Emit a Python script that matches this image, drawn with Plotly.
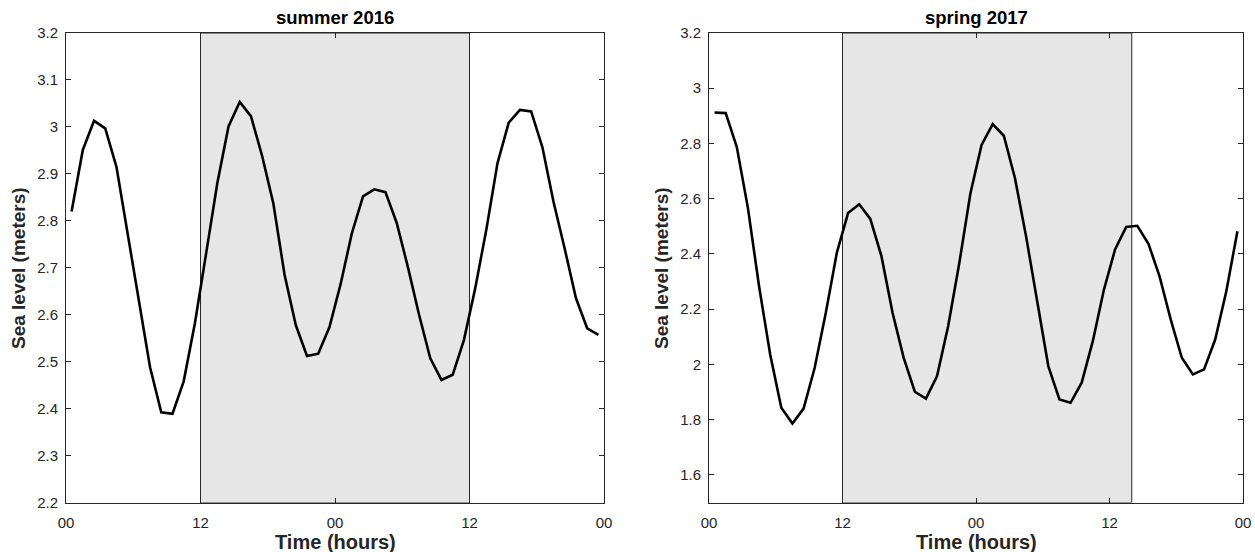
import plotly.graph_objects as go

# ---------------- data ----------------
HOURS = [0.5, 1.5, 2.5, 3.5, 4.5, 5.5, 6.5, 7.5, 8.5, 9.5, 10.5, 11.5,
         12.5, 13.5, 14.5, 15.5, 16.5, 17.5, 18.5, 19.5, 20.5, 21.5, 22.5, 23.5,
         24.5, 25.5, 26.5, 27.5, 28.5, 29.5, 30.5, 31.5, 32.5, 33.5, 34.5, 35.5,
         36.5, 37.5, 38.5, 39.5, 40.5, 41.5, 42.5, 43.5, 44.5, 45.5, 46.5, 47.5]

SUMMER_2016 = [2.820, 2.951, 3.013, 2.997, 2.915, 2.770, 2.624, 2.488, 2.392, 2.389, 2.458, 2.582,
               2.730, 2.880, 3.001, 3.053, 3.023, 2.938, 2.837, 2.685, 2.578, 2.512, 2.517, 2.573,
               2.665, 2.773, 2.852, 2.867, 2.861, 2.796, 2.702, 2.600, 2.507, 2.461, 2.472, 2.546,
               2.655, 2.781, 2.923, 3.009, 3.036, 3.033, 2.957, 2.840, 2.740, 2.635, 2.571, 2.557]

SPRING_2017 = [2.912, 2.910, 2.787, 2.566, 2.283, 2.036, 1.843, 1.786, 1.840, 1.988, 2.187, 2.406,
               2.548, 2.580, 2.527, 2.392, 2.187, 2.024, 1.901, 1.876, 1.958, 2.139, 2.367, 2.620,
               2.795, 2.870, 2.828, 2.675, 2.464, 2.223, 1.994, 1.873, 1.861, 1.934, 2.084, 2.271,
               2.416, 2.498, 2.502, 2.437, 2.319, 2.163, 2.024, 1.964, 1.982, 2.090, 2.265, 2.482]

X_TICKVALS = [0, 12, 24, 36, 48]
X_TICKTEXT = ["00", "12", "00", "12", "00"]

Y1_TICKVALS = [2.2, 2.3, 2.4, 2.5, 2.6, 2.7, 2.8, 2.9, 3.0, 3.1, 3.2]
Y1_TICKTEXT = ["2.2", "2.3", "2.4", "2.5", "2.6", "2.7", "2.8", "2.9", "3", "3.1", "3.2"]
Y2_TICKVALS = [1.6, 1.8, 2.0, 2.2, 2.4, 2.6, 2.8, 3.0, 3.2]
Y2_TICKTEXT = ["1.6", "1.8", "2", "2.2", "2.4", "2.6", "2.8", "3", "3.2"]

SHADE_1 = [12, 36]
SHADE_2 = [12, 38]

TITLES = ["summer 2016", "spring 2017"]
XLABEL = "Time (hours)"
YLABEL = "Sea level (meters)"

# ---------------- layout geometry (pixels) ----------------
W, H = 1255, 552
FONT = "Liberation Sans, Arial, Helvetica, sans-serif"
AX = "#262626"

def px(x):
    return x / W

def py(y):
    return 1 - y / H

left_dom = [px(66), px(604)]
right_dom = [px(709), px(1243)]
y_dom = [py(502.5), py(33)]

fig = go.Figure()

fig.add_trace(go.Scatter(x=HOURS, y=SUMMER_2016, mode="lines",
                         line=dict(color="black", width=2.6),
                         xaxis="x", yaxis="y", showlegend=False))
fig.add_trace(go.Scatter(x=HOURS, y=SPRING_2017, mode="lines",
                         line=dict(color="black", width=2.6),
                         xaxis="x2", yaxis="y2", showlegend=False))

common_x = dict(range=[0, 48], tickvals=X_TICKVALS, ticktext=X_TICKTEXT,
                showline=True, linecolor=AX, linewidth=1, mirror="ticks",
                ticks="inside", ticklen=5, tickcolor=AX, tickwidth=1,
                showgrid=False, zeroline=False, automargin=False,
                tickfont=dict(family=FONT, size=15, color=AX),
                ticklabelstandoff=6)
common_y = dict(showline=True, linecolor=AX, linewidth=1, mirror="ticks",
                ticks="inside", ticklen=5, tickcolor=AX, tickwidth=1,
                showgrid=False, zeroline=False, automargin=False,
                tickfont=dict(family=FONT, size=15, color=AX),
                ticklabelstandoff=4)

fig.update_layout(
    width=W, height=H, autosize=False,
    margin=dict(l=0, r=0, t=0, b=0, pad=0),
    paper_bgcolor="white", plot_bgcolor="white",
    xaxis=dict(domain=left_dom, anchor="y", **common_x),
    yaxis=dict(domain=y_dom, anchor="x", range=[2.2, 3.2],
               tickvals=Y1_TICKVALS, ticktext=Y1_TICKTEXT, **common_y),
    xaxis2=dict(domain=right_dom, anchor="y2", **common_x),
    yaxis2=dict(domain=y_dom, anchor="x2", range=[1.5, 3.2],
                tickvals=Y2_TICKVALS, ticktext=Y2_TICKTEXT, **common_y),
)

# shaded periods
fig.add_shape(type="rect", xref="x", yref="y", x0=SHADE_1[0], x1=SHADE_1[1],
              y0=2.2, y1=3.2, fillcolor="#e6e6e6",
              line=dict(color=AX, width=1), layer="below")
fig.add_shape(type="rect", xref="x2", yref="y2", x0=SHADE_2[0], x1=SHADE_2[1],
              y0=1.5, y1=3.2, fillcolor="#e6e6e6",
              line=dict(color=AX, width=1), layer="below")

# text
centers = [(66 + 604) / 2, (709 + 1243) / 2]
ylab_x = [19, 662]
for i in range(2):
    fig.add_annotation(text=TITLES[i], xref="paper", yref="paper",
                       x=px(centers[i]), y=py(17.5), xanchor="center", yanchor="middle",
                       showarrow=False,
                       font=dict(family=FONT, size=18.5, color="black", weight="bold"))
    fig.add_annotation(text=XLABEL, xref="paper", yref="paper",
                       x=px(centers[i]), y=py(541.5), xanchor="center", yanchor="middle",
                       showarrow=False,
                       font=dict(family=FONT, size=20, color=AX, weight="bold"))
    fig.add_annotation(text=YLABEL, xref="paper", yref="paper",
                       x=px(ylab_x[i]), y=py(268), xanchor="center", yanchor="middle",
                       textangle=-90, showarrow=False,
                       font=dict(family=FONT, size=19, color=AX, weight="bold"))

fig.write_html("out.html")
